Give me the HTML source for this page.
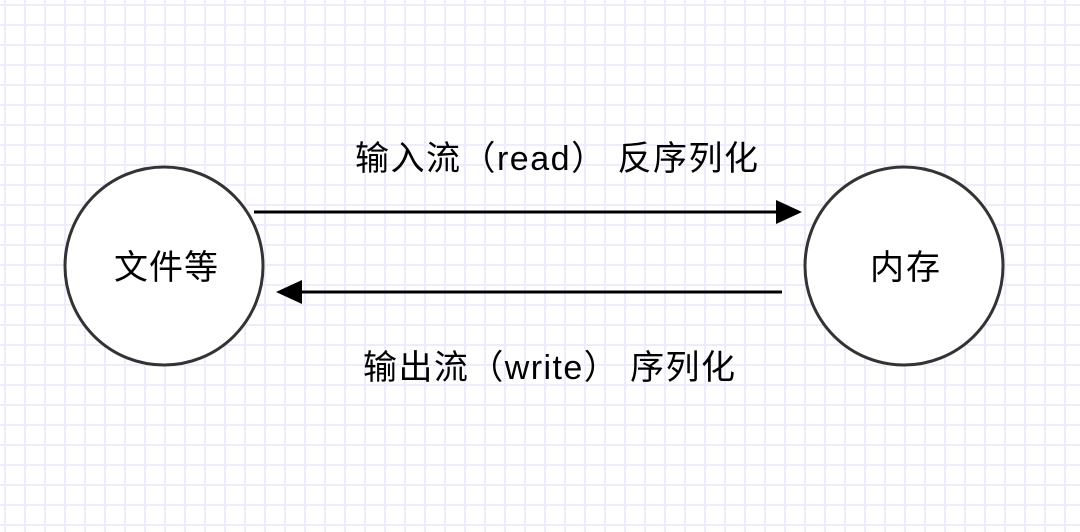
<!DOCTYPE html>
<html><head><meta charset="utf-8"><style>
html,body{margin:0;padding:0}
body{width:1080px;height:532px;overflow:hidden;background:#fff;
background-image:linear-gradient(to right,#eeecfc 2px,transparent 2px),linear-gradient(to bottom,#eeecfc 2px,transparent 2px);
background-size:20px 20px;background-position:4px 4px;}
svg{position:absolute;left:0;top:0}
text{font-family:"Liberation Sans","Noto Sans CJK SC",sans-serif;font-size:34px;fill:#000}
</style></head><body>
<svg width="1080" height="532">
<circle cx="164" cy="266" r="99" fill="#fff" stroke="#333" stroke-width="3"/>
<circle cx="904" cy="266" r="99" fill="#fff" stroke="#333" stroke-width="3"/>
<line x1="254" y1="212" x2="778" y2="212" stroke="#000" stroke-width="3"/>
<polygon points="802,212 776,200 776,224" fill="#000"/>
<line x1="300" y1="292" x2="782" y2="292" stroke="#000" stroke-width="3"/>
<polygon points="276,292 302,280 302,304" fill="#000"/>
<text x="114" y="279" textLength="104" lengthAdjust="spacing">文件等</text>
<text x="870" y="279" textLength="70" lengthAdjust="spacing">内存</text>
<text x="355" y="170" textLength="403" lengthAdjust="spacing">输入流（read） 反序列化</text>
<text x="363" y="379" textLength="372" lengthAdjust="spacing">输出流（write） 序列化</text>
</svg>
</body></html>
